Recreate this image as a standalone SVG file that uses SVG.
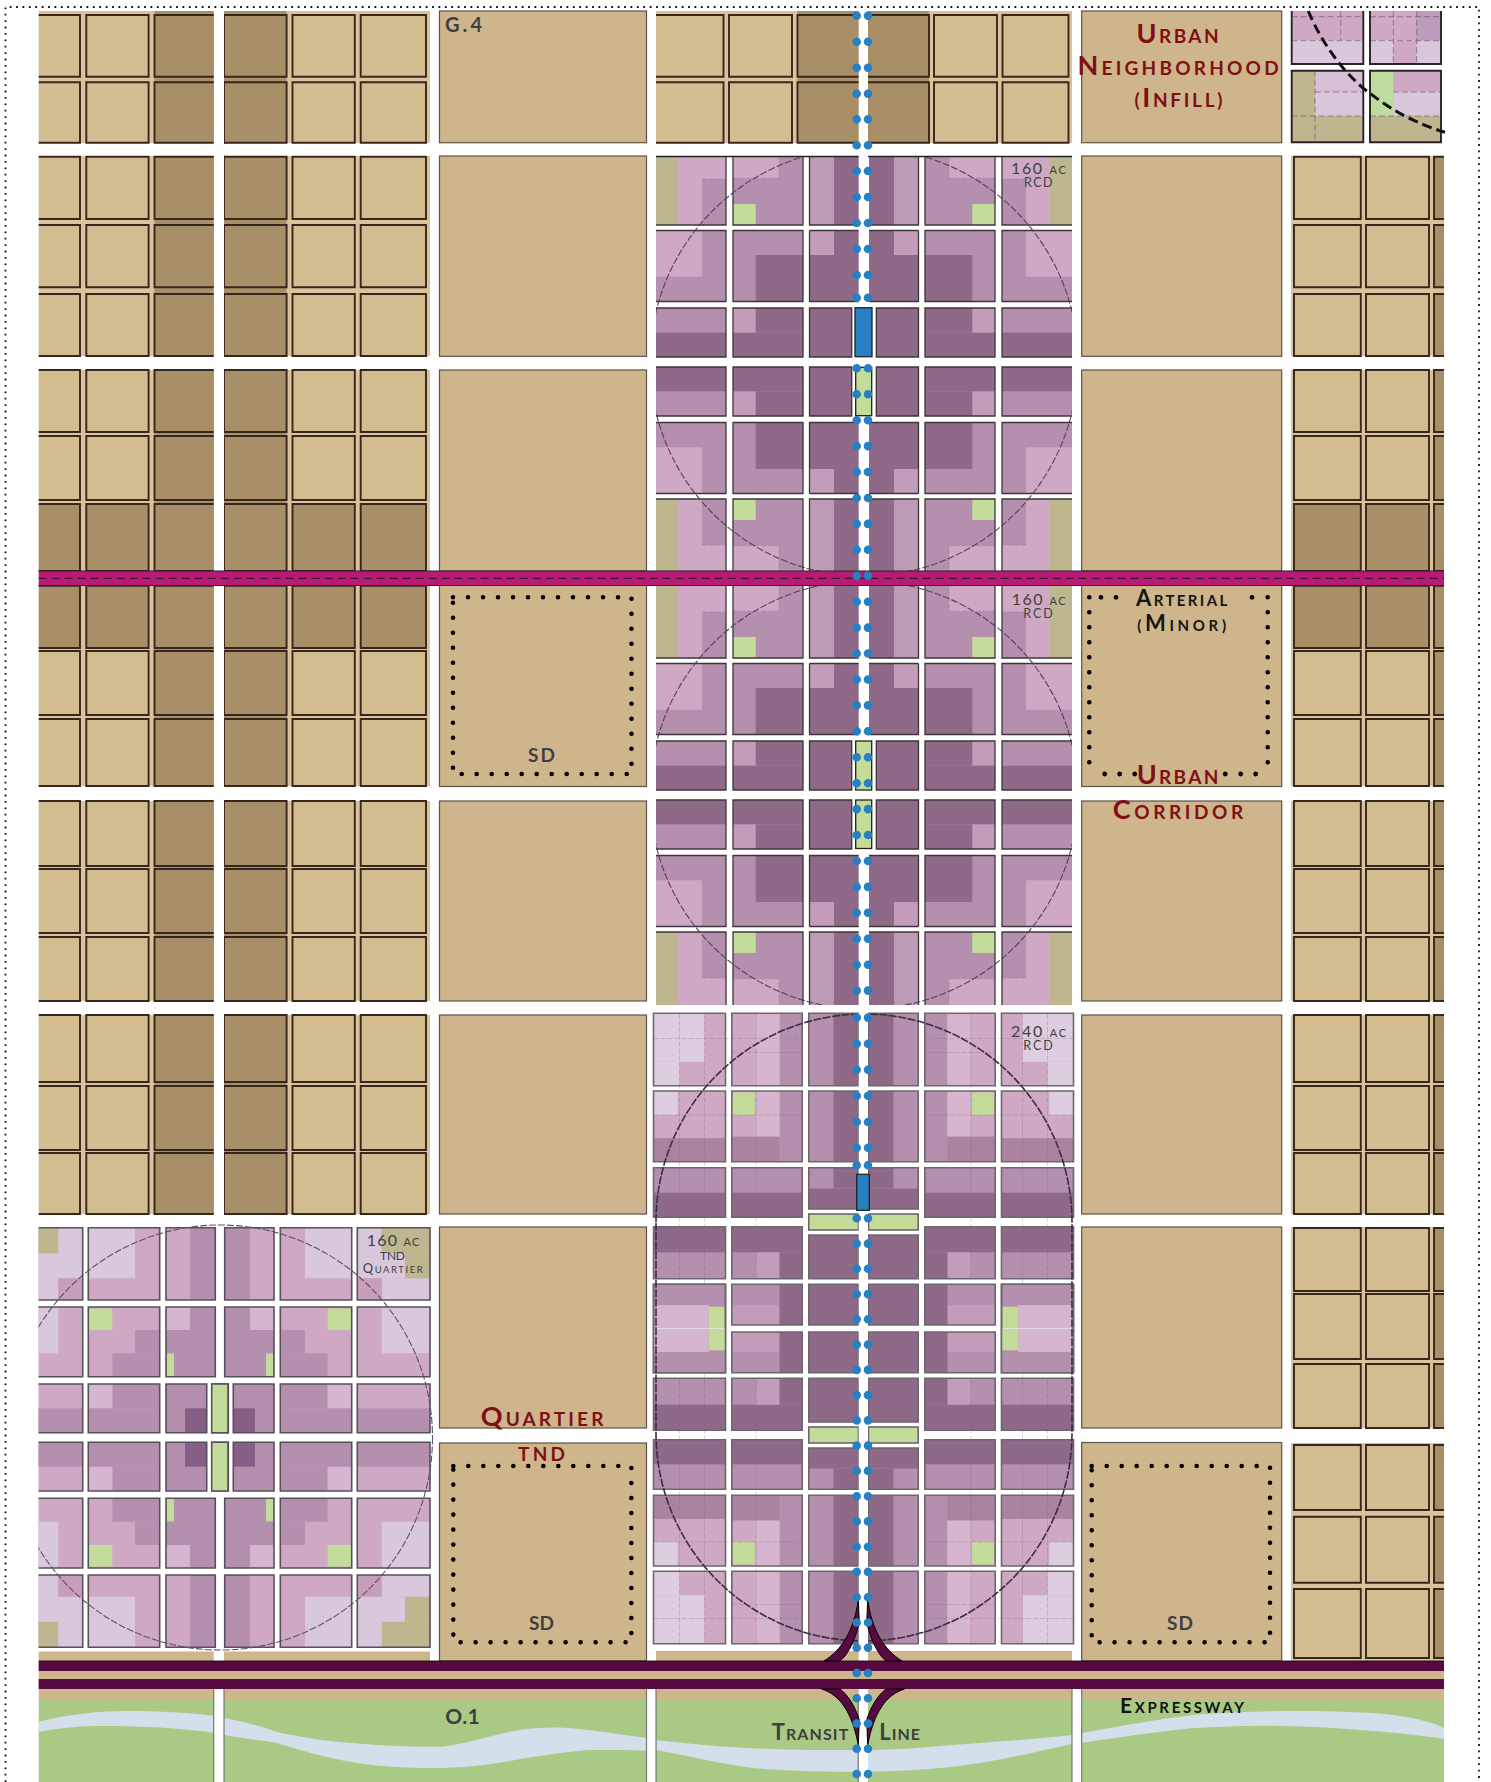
<svg xmlns="http://www.w3.org/2000/svg" xmlns:xlink="http://www.w3.org/1999/xlink" width="1491" height="1782" viewBox="0 0 1491 1782">
<style>
text{font-family:Lato,"Liberation Sans",sans-serif;font-weight:700}
.red{fill:#7f0f14}.gr{fill:#3f3f42}.bk{fill:#141414}
.t4{font-weight:400}
.tan{fill:#cfb58b;stroke:#5c5248;stroke-width:1.2}
.gut{fill:#dcc19b}
.cl,.cd{stroke:#35261e;stroke-width:1.9;vector-effect:non-scaling-stroke}
.cl{fill:#d3bc8f}.cd{fill:#a88f68}
.pk{fill:#cfa9c4}.pk2{fill:#c39cba}.mv{fill:#b590ae}.dk{fill:#8f6a88}.kh{fill:#bdb68f}.gn{fill:#c3dc9a}.pl{fill:#d9c8dc}.lp{fill:#d6b6cf}.m2{fill:#a9839f}
.cs{fill:none;stroke:#3e343a;stroke-width:1.3}
.cg{fill:none;stroke:#6e666e;stroke-width:1.6}
.fg{fill:none;stroke:#7d5f7c;stroke-width:.8;opacity:.35;stroke-dasharray:5 2}
.arc{fill:none;stroke:#54405a;stroke-width:1.1;stroke-dasharray:7 2}
.dots{fill:none;stroke:#000;stroke-width:4.6;stroke-linecap:round;stroke-dasharray:0 15}
.dot{fill:none;stroke:#000;stroke-width:4.8;stroke-linecap:round}
.bl{fill:none;stroke:#2680c2;stroke-width:8.6;stroke-linecap:round}
.st{stroke:#222;stroke-width:1.3}
.ramp{fill:#560a3f;stroke:#000;stroke-width:1}
.edge{stroke:#777;stroke-width:1.2;fill:none}
</style>
<defs>
<g id="ab"><rect class="cl" x="20" y="0" width="60" height="1"/><rect class="cl" x="86.3" y="0" width="62.3" height="1"/><rect class="cd" x="154.5" y="0" width="70" height="1"/><rect class="cd" x="224" y="0" width="62.6" height="1"/><rect class="cl" x="292.5" y="0" width="62.3" height="1"/><rect class="cl" x="360.7" y="0" width="65.3" height="1"/></g>
<g id="abd"><rect class="cd" x="20" y="0" width="60" height="1"/><rect class="cd" x="86.3" y="0" width="62.3" height="1"/><rect class="cd" x="154.5" y="0" width="70" height="1"/><rect class="cd" x="224" y="0" width="62.6" height="1"/><rect class="cd" x="292.5" y="0" width="62.3" height="1"/><rect class="cd" x="360.7" y="0" width="65.3" height="1"/></g>
<g id="ff"><rect class="cl" x="1294" y="0" width="66.8" height="1"/><rect class="cl" x="1366" y="0" width="63" height="1"/><rect class="cd" x="1434" y="0" width="30" height="1"/></g>
<g id="ffd"><rect class="cd" x="1294" y="0" width="66.8" height="1"/><rect class="cd" x="1366" y="0" width="63" height="1"/><rect class="cd" x="1434" y="0" width="30" height="1"/></g>
<g id="dd"><rect class="cl" x="640" y="0" width="83.5" height="1"/><rect class="cl" x="729" y="0" width="63" height="1"/><rect class="cd" x="797.5" y="0" width="131.5" height="1"/><rect class="cl" x="934" y="0" width="63" height="1"/><rect class="cl" x="1002.5" y="0" width="66" height="1"/></g>
<clipPath id="cpAB"><rect x="38.7" y="0" width="175" height="1782"/><rect x="224" y="0" width="206" height="1782"/></clipPath>
<clipPath id="cpF"><rect x="1291" y="0" width="153" height="1782"/></clipPath>
<clipPath id="cpD"><rect x="656" y="0" width="416" height="1782"/></clipPath>

<clipPath id="cpR">
<rect x="-208" y="-210" width="70" height="73"/><rect x="-131" y="-210" width="70" height="73"/><rect x="-54.5" y="-210" width="49.5" height="73"/>
<rect x="-208" y="-131.5" width="70" height="71"/><rect x="-131" y="-131.5" width="70" height="71"/><rect x="-54.5" y="-131.5" width="49.5" height="71"/>
<rect x="-208" y="-54" width="70" height="49"/><rect x="-131" y="-54" width="70" height="49"/><rect x="-54.5" y="-54" width="42.2" height="49"/>
</clipPath>
<g id="rcdq">
<g clip-path="url(#cpR)">
<rect class="mv" x="-208" y="-210" width="203" height="205"/>
<rect class="kh" x="-208" y="-210" width="22" height="73"/>
<rect class="pk" x="-186" y="-210" width="48" height="27"/><rect class="pk" x="-186" y="-183" width="24" height="46"/>
<rect class="pk" x="-131" y="-210" width="46" height="26.3"/>
<rect class="gn" x="-131" y="-158" width="22.7" height="21"/>
<rect class="lp" x="-54.5" y="-210" width="24.5" height="73" opacity=".25"/>
<rect class="dk" x="-30" y="-210" width="25" height="73"/>
<rect class="pk" x="-208" y="-131.5" width="46" height="46.2"/>
<rect class="dk" x="-108.3" y="-107" width="47.3" height="46.5"/>
<rect class="pk2" x="-54.5" y="-131.5" width="24.5" height="24.5"/>
<rect class="dk" x="-30" y="-131.5" width="25" height="24.5"/>
<rect class="dk" x="-54.5" y="-107" width="49.5" height="46.5"/>
<rect class="dk" x="-208" y="-29.3" width="70" height="24.3"/>
<rect class="pk2" x="-131" y="-54" width="22.7" height="24.7"/>
<rect class="dk" x="-108.3" y="-54" width="47.3" height="24.7"/>
<rect class="dk" x="-131" y="-29.3" width="70" height="24.3"/>
<rect class="dk" x="-54.5" y="-54" width="42.2" height="49"/>
</g>
<path class="cs" d="M-208-137H-138V-210M-131-210V-137H-61V-210M-54.5-210V-137H-5M-208-131.5H-138V-60.5H-208M-131-131.5H-61V-60.5H-131ZM-54.5-131.5H-5M-54.5-131.5V-60.5H-5M-208-54H-138V-5H-208M-131-54H-61V-5H-131ZM-54.5-54H-12.3V-5H-54.5Z"/>
<path class="fg" d="M-162-183H-138M-131-183.7H-85V-210"/>
</g>

<clipPath id="cpT">
<rect x="4.7" y="-209.8" width="49.3" height="72.3"/><rect x="60.3" y="-209.8" width="71.4" height="72.3"/><rect x="137.3" y="-209.8" width="72.7" height="72.3"/>
<rect x="4.7" y="-130.5" width="49.3" height="69.7"/><rect x="60.3" y="-130.5" width="71.4" height="69.7"/><rect x="137.3" y="-130.5" width="72.7" height="69.7"/>
<rect x="13.3" y="-53.5" width="40.7" height="48.7"/><rect x="60.3" y="-53.5" width="71.4" height="48.7"/><rect x="137.3" y="-53.5" width="72.7" height="48.7"/>
<rect x="-8" y="-53.5" width="16.3" height="48.7"/>
</clipPath>
<g id="tndq">
<g clip-path="url(#cpT)">
<rect class="pk" x="-8" y="-210" width="218" height="205"/>
<rect class="mv" x="4.7" y="-209.8" width="25.3" height="72.3"/>
<rect class="pl" x="85" y="-209.8" width="46.7" height="50.6"/>
<rect class="pl" x="137.3" y="-209.8" width="72.7" height="50.6"/>
<rect class="pl" x="161.7" y="-159.2" width="48.3" height="21.7"/>
<rect fill="#c79fbd" x="137.3" y="-159.2" width="24.4" height="21.7"/>
<rect class="kh" x="161.7" y="-209.8" width="48.3" height="25.6"/><rect class="kh" x="185" y="-184.2" width="25" height="25"/>
<rect class="mv" x="4.7" y="-130.5" width="25.3" height="23"/>
<rect class="lp" x="30" y="-130.5" width="24" height="23"/>
<rect class="mv" x="4.7" y="-107.5" width="49.3" height="46.7"/>
<rect class="gn" x="46" y="-84" width="7.3" height="23.2"/>
<rect class="mv" x="60.3" y="-107.5" width="24.7" height="23.3"/><rect class="mv" x="60.3" y="-84.2" width="47.4" height="23.4"/>
<rect class="gn" x="107.7" y="-129" width="24" height="21.5"/>
<rect class="pl" x="161.7" y="-130.5" width="48.3" height="46.3"/>
<rect class="mv" x="13.3" y="-53.5" width="40.7" height="48.7"/>
<rect fill="#875e85" x="13.3" y="-29.2" width="21.7" height="24.4"/>
<rect class="mv" x="60.3" y="-53.5" width="47.4" height="24.3"/><rect class="lp" x="107.7" y="-53.5" width="24" height="24.3"/><rect class="mv" x="60.3" y="-29.2" width="71.4" height="24.4"/>
<rect class="mv" x="137.3" y="-29.2" width="72.7" height="24.4"/>
<rect class="gn" x="-8" y="-53.5" width="16.3" height="48.7"/>
</g>
<path class="cg" style="stroke:#56505a" d="M54-209.8H4.7V-137.5H54ZM60.3-209.8H131.7V-137.5H60.3ZM137.3-209.8H210V-137.5H137.3ZM4.7-130.5H54V-60.8H4.7ZM60.3-130.5H131.7V-60.8H60.3ZM137.3-130.5H210V-60.8H137.3ZM13.3-53.5H54V-4.8H13.3ZM60.3-53.5H131.7V-4.8H60.3ZM137.3-53.5H210V-4.8H137.3ZM-8-53.5H8.3V-4.8H-8Z"/>
</g>

<clipPath id="cpW">
<rect x="-210" y="-315.2" width="72" height="72.4"/><rect x="-131.7" y="-315.2" width="70.4" height="72.4"/><rect x="-54.7" y="-315.2" width="49.7" height="72.4"/>
<rect x="-210" y="-237.5" width="72" height="70.7"/><rect x="-131.7" y="-237.5" width="70.4" height="70.7"/><rect x="-54.7" y="-237.5" width="49.7" height="70.7"/>
<rect x="-210" y="-160.8" width="72" height="49.6"/><rect x="-131.7" y="-160.8" width="70.4" height="49.6"/><rect x="-54.7" y="-160.8" width="49.7" height="41.3"/>
<rect x="-210" y="-101.8" width="72" height="52"/><rect x="-131.7" y="-101.8" width="70.4" height="52"/><rect x="-54.7" y="-93.5" width="49.7" height="43.7"/>
<rect x="-210" y="-44.2" width="72" height="44.2"/><rect x="-131.7" y="-44.2" width="70.4" height="40.7"/><rect x="-54.7" y="-44.2" width="49.7" height="40.7"/>
</clipPath>
<g id="rcwq">
<g clip-path="url(#cpW)">
<rect class="mv" x="-210" y="-316" width="205" height="316"/>
<rect class="pk" x="-210" y="-315.2" width="72" height="72.4"/><rect fill="#dccddf" x="-210" y="-315.2" width="51" height="48.4"/><rect fill="#dccddf" x="-210" y="-266.8" width="26" height="24"/>
<rect class="pk" x="-131.7" y="-315.2" width="47.7" height="72.4"/><rect class="lp" x="-107.3" y="-315.2" width="23.3" height="72.4"/>
<rect class="dk" x="-30" y="-315.2" width="25" height="148.4"/>
<rect class="pk" x="-210" y="-237.5" width="72" height="47.3"/><rect fill="#dccddf" x="-210" y="-237.5" width="24.3" height="24"/><rect class="m2" x="-210" y="-190.2" width="72" height="23.4"/>
<rect class="pk" x="-131.7" y="-237.5" width="47.7" height="45.7"/><rect class="lp" x="-107.3" y="-237.5" width="23.3" height="45.7"/><rect class="gn" x="-131" y="-236" width="22.3" height="22.5"/><rect class="m2" x="-131.7" y="-191.8" width="47.7" height="25"/>
<rect class="dk" x="-210" y="-135.8" width="72" height="24.6"/><rect class="dk" x="-131.7" y="-135.8" width="70.4" height="24.6"/>
<rect class="dk" x="-30" y="-160.8" width="25" height="20.8"/><rect class="dk" x="-54.7" y="-140" width="49.7" height="20.5"/>
<rect class="dk" x="-210" y="-101.8" width="72" height="25.6"/><rect class="dk" x="-131.7" y="-101.8" width="70.4" height="25.6"/>
<rect class="pk2" x="-107.3" y="-76.2" width="23.3" height="26.4"/><rect class="dk" x="-84" y="-76.2" width="22.7" height="26.4"/>
<rect class="dk" x="-54.7" y="-93.5" width="49.7" height="43.7"/>
<rect class="lp" x="-210" y="-23.5" width="55.3" height="23.5"/><rect class="gn" x="-154.7" y="-21.8" width="16.7" height="21.8"/>
<rect class="pk2" x="-131.7" y="-23.5" width="47.7" height="20"/><rect class="dk" x="-84" y="-44.2" width="22.7" height="40.7"/>
<rect class="dk" x="-54.7" y="-44.2" width="49.7" height="40.7"/>
</g>
<path class="fg" d="M-184-315V-50M-159-315V-45M-107.3-315V-50M-210-290H-61M-210-213.5H-61M-131-276H-61"/>
<path class="cg" d="M-210-315.2H-138V-242.8H-210ZM-131.7-315.2H-61.3V-242.8H-131.7ZM-54.7-315.2H-5V-242.8H-54.7ZM-210-237.5H-138V-166.8H-210ZM-131.7-237.5H-61.3V-166.8H-131.7ZM-54.7-237.5H-5V-166.8H-54.7ZM-210-160.8H-138V-111.2H-210ZM-131.7-160.8H-61.3V-111.2H-131.7ZM-54.7-160.8H-5V-119.5H-54.7ZM-210-101.8H-138V-49.8H-210ZM-131.7-101.8H-61.3V-49.8H-131.7ZM-54.7-93.5H-5V-49.8H-54.7ZM-210-44.2H-138V44.2H-210ZM-131.7-44.2H-61.3V-3.5H-131.7ZM-54.7-44.2H-5V-3.5H-54.7Z"/>
<rect class="gn cg" style="fill:#c3dc9a" x="-54.7" y="-114.5" width="49.7" height="16"/>
</g>
<path id="bd" d="M0 15.7h0M0 41.7h0M0 67.7h0M0 93.7h0M0 119.3h0M0 145.3h0M0 171h0M0 197h0M0 223h0M0 249h0M0 275h0M0 297.7h0M0 368.3h0M0 394.3h0M0 420.2h0M0 446.1h0M0 472h0M0 498h0M0 523.9h0M0 549.8h0M0 575.8h0M0 601.7h0M0 627.6h0M0 653.5h0M0 679.5h0M0 705.4h0M0 731.3h0M0 757.3h0M0 783.2h0M0 809.1h0M0 835h0M0 861h0M0 886.9h0M0 912.8h0M0 938.8h0M0 964.7h0M0 990.6h0M0 1017.6h0M0 1043.7h0M0 1069.7h0M0 1095.7h0M0 1122h0M0 1147.7h0M0 1165.3h0M0 1218.3h0M0 1243.6h0M0 1268.8h0M0 1294.1h0M0 1319.3h0M0 1344.6h0M0 1369.9h0M0 1395.1h0M0 1420.4h0M0 1445.6h0M0 1470.9h0M0 1496.2h0M0 1521.4h0M0 1546.7h0M0 1571.9h0M0 1597.2h0M0 1622.5h0M0 1647.7h0M0 1673h0M0 1698.2h0M0 1723.5h0M0 1748.8h0M0 1774h0"/>
</defs>
<rect width="1491" height="1782" fill="#fff"/>
<path id="border" d="M5.5 1782V7H1479V1782" fill="none" stroke="#111" stroke-width="1.8" stroke-dasharray="1.8 4.6"/>

<g id="fringe-west" clip-path="url(#cpAB)">
<rect class="gut" x="38.7" y="11" width="392" height="132"/><rect class="gut" x="38.7" y="156" width="392" height="200"/><rect class="gut" x="38.7" y="370" width="392" height="201"/><rect class="gut" x="38.7" y="585" width="392" height="201"/><rect class="gut" x="38.7" y="801" width="392" height="200"/><rect class="gut" x="38.7" y="1015" width="392" height="199"/>
<rect fill="#a88f68" x="154.5" y="11" width="132" height="132"/><rect fill="#a88f68" x="154.5" y="156" width="132" height="200"/><rect fill="#a88f68" x="154.5" y="370" width="132" height="201"/><rect fill="#a88f68" x="154.5" y="585" width="132" height="201"/><rect fill="#a88f68" x="154.5" y="801" width="132" height="200"/><rect fill="#a88f68" x="154.5" y="1015" width="132" height="199"/>
<use href="#ab" transform="translate(0,15) scale(1,61.7)"/><use href="#ab" transform="translate(0,82.3) scale(1,60.4)"/>
<use href="#ab" transform="translate(0,156.7) scale(1,62.3)"/><use href="#ab" transform="translate(0,225) scale(1,62.3)"/><use href="#ab" transform="translate(0,294) scale(1,62)"/>
<use href="#ab" transform="translate(0,370) scale(1,62)"/><use href="#ab" transform="translate(0,436) scale(1,64)"/><use href="#abd" transform="translate(0,504) scale(1,67)"/>
<use href="#abd" transform="translate(0,585.7) scale(1,62.3)"/><use href="#ab" transform="translate(0,651) scale(1,64)"/><use href="#ab" transform="translate(0,719) scale(1,67)"/>
<use href="#ab" transform="translate(0,801) scale(1,65)"/><use href="#ab" transform="translate(0,869) scale(1,64)"/><use href="#ab" transform="translate(0,937) scale(1,64)"/>
<use href="#ab" transform="translate(0,1015) scale(1,67)"/><use href="#ab" transform="translate(0,1086) scale(1,64)"/><use href="#ab" transform="translate(0,1153) scale(1,61)"/>
</g>

<g id="blocks-flat">
<rect class="tan" x="439.5" y="11" width="207" height="131.7"/><rect class="tan" x="439.5" y="156" width="207" height="200.3"/><rect class="tan" x="439.5" y="370" width="207" height="201"/><rect class="tan" x="439.5" y="585" width="207" height="201.5"/><rect class="tan" x="439.5" y="801" width="207" height="200"/><rect class="tan" x="439.5" y="1015" width="207" height="199"/><rect class="tan" x="439.5" y="1227" width="207" height="201"/><rect class="tan" x="439.5" y="1443" width="207" height="218"/>
<rect class="tan" x="1081.7" y="11" width="200" height="131.7"/><rect class="tan" x="1081.7" y="156" width="200" height="200.3"/><rect class="tan" x="1081.7" y="370" width="200" height="201"/><rect class="tan" x="1081.7" y="585" width="200" height="201.5"/><rect class="tan" x="1081.7" y="801" width="200" height="200"/><rect class="tan" x="1081.7" y="1015" width="200" height="199"/><rect class="tan" x="1081.7" y="1227" width="200" height="201"/><rect class="tan" x="1081.7" y="1442.5" width="200" height="218.5"/>
</g>

<g id="fringe-east" clip-path="url(#cpF)">
<rect class="gut" x="1291" y="156" width="153" height="200"/><rect class="gut" x="1291" y="370" width="153" height="201"/><rect class="gut" x="1291" y="585" width="153" height="201"/><rect class="gut" x="1291" y="801" width="153" height="200"/><rect class="gut" x="1291" y="1015" width="153" height="199"/><rect class="gut" x="1291" y="1227" width="153" height="201"/><rect class="gut" x="1291" y="1443" width="153" height="218"/>
<use href="#ff" transform="translate(0,156.7) scale(1,62.3)"/><use href="#ff" transform="translate(0,225) scale(1,62.3)"/><use href="#ff" transform="translate(0,294) scale(1,62)"/>
<use href="#ff" transform="translate(0,370) scale(1,62)"/><use href="#ff" transform="translate(0,436) scale(1,64)"/><use href="#ffd" transform="translate(0,504) scale(1,67)"/>
<use href="#ffd" transform="translate(0,585.7) scale(1,62.3)"/><use href="#ff" transform="translate(0,651) scale(1,64)"/><use href="#ff" transform="translate(0,719) scale(1,67)"/>
<use href="#ff" transform="translate(0,801) scale(1,65)"/><use href="#ff" transform="translate(0,869) scale(1,64)"/><use href="#ff" transform="translate(0,937) scale(1,64)"/>
<use href="#ff" transform="translate(0,1015) scale(1,67)"/><use href="#ff" transform="translate(0,1086) scale(1,64)"/><use href="#ff" transform="translate(0,1153) scale(1,61)"/>
<use href="#ff" transform="translate(0,1228) scale(1,63)"/><use href="#ff" transform="translate(0,1294) scale(1,65)"/><use href="#ff" transform="translate(0,1364) scale(1,64)"/>
<use href="#ff" transform="translate(0,1445) scale(1,65)"/><use href="#ff" transform="translate(0,1516.7) scale(1,66)"/><use href="#ff" transform="translate(0,1589) scale(1,69)"/>
</g>

<g id="corner-plan">
<rect class="pk" x="1291.7" y="11" width="71.6" height="29.7"/><rect class="pl" x="1291.7" y="40.7" width="71.6" height="23.3"/>
<rect class="pk" x="1370" y="11" width="71" height="29.7"/><rect fill="#bd9cbb" x="1416.7" y="11" width="24.3" height="29.7"/><rect class="pl" x="1370" y="40.7" width="71" height="23.3"/><rect class="pk" x="1393.3" y="40.7" width="23.4" height="23.3"/>
<rect class="kh" x="1291.7" y="70.7" width="71.6" height="71.6"/><rect fill="#d8bfd8" x="1315" y="70.7" width="48.3" height="21"/><rect class="pl" x="1315" y="91.7" width="48.3" height="24.3"/>
<rect class="kh" x="1370" y="70.7" width="71" height="71.6"/><rect fill="#bfdc9f" x="1370" y="70.7" width="23.3" height="45.3"/><rect class="pk" x="1393.3" y="70.7" width="47.7" height="21"/><rect class="pl" x="1393.3" y="91.7" width="47.7" height="24.3"/>
<path class="fg" style="stroke:#5a4a55;opacity:.7;stroke-dasharray:6 3" d="M1291.7 16.7H1363M1291.7 40.7H1363M1340.7 11V40M1370 16.7H1441M1370 40.7H1441M1393.3 11V64M1416.7 11V64M1315 92H1363M1393 92H1441M1291.7 116H1363M1370 116H1441M1315 70.7V142"/>
<path fill="none" stroke="#2a2226" stroke-width="1.9" d="M1291.7 11V64H1363.3V11M1370 11V64H1441V11M1291.7 70.7H1363.3V142.3H1291.7ZM1370 70.7H1441V142.3H1370Z"/>
<path fill="none" stroke="#111" stroke-width="3" stroke-dasharray="10 5" d="M1308.3 11C1315 28 1328 50 1343.3 68.3C1352 78 1362 88 1370 93.3C1385 105 1410 122 1445 132.3"/>
</g>

<g id="downtown-row1" clip-path="url(#cpD)">
<rect class="gut" x="656" y="11" width="416" height="132"/>
<rect fill="#a88f68" x="797.5" y="11" width="131.5" height="132"/>
<use href="#dd" transform="translate(0,15) scale(1,61.7)"/><use href="#dd" transform="translate(0,82.3) scale(1,60.4)"/>
</g>

<g id="tnd-quartier" clip-path="url(#cpAB2)">
<clipPath id="cpAB2"><rect x="38.5" y="1222" width="400" height="432"/></clipPath>
<use href="#tndq" transform="translate(220,1437.5)"/>
<use href="#tndq" transform="translate(220,1437.5) scale(-1,1)"/>
<use href="#tndq" transform="translate(220,1437.5) scale(1,-1)"/>
<use href="#tndq" transform="translate(220,1437.5) scale(-1,-1)"/>
<circle class="arc" style="stroke:#5e4e68;stroke-width:1.1" cx="220" cy="1437.5" r="212.5"/>
</g>

<g id="rcd-160-north">
<use href="#rcdq" transform="translate(864,362)"/><use href="#rcdq" transform="translate(864,362) scale(-1,1)"/><use href="#rcdq" transform="translate(864,362) scale(1,-1)"/><use href="#rcdq" transform="translate(864,362) scale(-1,-1)"/>
<rect x="650" y="146" width="430" height="10.3" fill="#fff"/>
<path d="M656 156.5H1072" stroke="#222" stroke-width="1.4"/>
</g>
<g id="rcd-160-south">
<use href="#rcdq" transform="translate(864,795)"/><use href="#rcdq" transform="translate(864,795) scale(-1,1)"/><use href="#rcdq" transform="translate(864,795) scale(1,-1)"/><use href="#rcdq" transform="translate(864,795) scale(-1,-1)"/>
</g>
<g id="rcd-240">
<use href="#rcwq" transform="translate(863.5,1328.5)"/><use href="#rcwq" transform="translate(863.5,1328.5) scale(-1,1)"/><use href="#rcwq" transform="translate(863.5,1328.5) scale(1,-1)"/><use href="#rcwq" transform="translate(863.5,1328.5) scale(-1,-1)"/>
</g>
<clipPath id="cpN"><rect x="656" y="157" width="416" height="414"/></clipPath>
<clipPath id="cpS"><rect x="656" y="585" width="416" height="420"/></clipPath>
<circle class="arc" clip-path="url(#cpN)" cx="864" cy="362" r="214"/>
<circle class="arc" clip-path="url(#cpS)" cx="864" cy="795" r="214"/>
<path class="arc" style="stroke:#3c2c42;stroke-width:1.6;stroke-dasharray:8 1.5" d="M656 1222A208 208 0 0 1 1072 1222V1433A208 208 0 0 1 656 1433Z"/>

<g id="ground">
<rect fill="#cfb58b" x="38.7" y="1651.5" width="175" height="10"/><rect fill="#cfb58b" x="224" y="1651.5" width="206" height="10"/><rect fill="#cfb58b" x="656" y="1651" width="416" height="10"/>
<rect fill="#cfb58b" x="38.7" y="1661" width="1405.3" height="39"/>
<rect fill="#fff" x="213.7" y="1689" width="10.3" height="11"/><rect fill="#fff" x="646.5" y="1689" width="9.5" height="11"/><rect fill="#fff" x="1072" y="1689" width="9.7" height="11"/>
<rect fill="#aac985" x="38.7" y="1700" width="175" height="82"/><rect fill="#aac985" x="224" y="1700" width="422.5" height="82"/><rect fill="#aac985" x="656" y="1700" width="416" height="82"/><rect fill="#aac985" x="1081.7" y="1700" width="362.3" height="82"/>
<g fill="#d4dfec">
<path d="M38.7 1721.7C70 1714 100 1711 126 1711C160 1711 190 1713 213.7 1715.7V1732.7C180 1728 140 1726 105 1726C80 1726 60 1728 38.7 1731.7Z"/>
<path d="M224 1718C245 1722 260 1726 275.7 1731.7C300 1737 320 1740 336.7 1741.7C370 1745 410 1747 442 1746.7C465 1744 485 1737 505 1733C525 1728 545 1727 564 1727.7C590 1729 620 1735 646.5 1737.7V1750.7C625 1750 605 1750 589 1750C565 1752 545 1755 526 1758C495 1764 465 1768 433.5 1768C410 1768 380 1767 357.7 1763C325 1758 300 1750 275.7 1742.7C258 1740 240 1738 224 1735Z"/>
<path d="M656 1740C690 1744 725 1747 753 1748.3C790 1750 825 1750 858 1750C890 1750 920 1748 953 1745C995 1742 1035 1739 1072 1735V1744C1035 1752 995 1762 953 1766.7C920 1770 890 1771.7 858 1771.7C825 1771.7 790 1771 753 1768C720 1764 690 1756 656 1750Z"/>
<path d="M1081.7 1733C1120 1726 1160 1719 1193 1715C1225 1712 1260 1711 1293 1711C1330 1711 1370 1712 1393 1715C1415 1718 1432 1722 1444 1728V1739C1420 1735 1390 1732 1360 1730C1325 1727 1290 1726 1260 1725.7C1235 1726 1215 1727 1193 1728C1155 1732 1120 1737 1081.7 1743Z"/>
</g>
<path class="edge" d="M213.7 1689V1782M224 1689V1782M646.5 1689V1782M656 1689V1782M1072 1689V1782M1081.7 1689V1782"/>
</g>

<g id="stations-and-transit-line">
<rect x="858.7" y="11" width="9.3" height="1660" fill="#fff"/>
<rect x="858.7" y="1679" width="9.3" height="103" fill="#fff"/>
<path class="edge" d="M858.2 1700V1782"/>
<rect class="gn st" x="855.7" y="367.3" width="16" height="48.4"/>
<rect class="gn st" x="855.7" y="741" width="16" height="49"/>
<rect class="gn st" x="855.7" y="800" width="16" height="48.5"/>
<rect class="st" fill="#2680c2" x="855" y="307.7" width="17" height="49"/>
<rect class="st" fill="#2680c2" x="856.7" y="1174.3" width="12.6" height="36"/>
</g>

<g id="arterial">
<rect x="38.7" y="571" width="1405.3" height="14.7" fill="#b81a76"/>
<path d="M38.7 571H1444M38.7 585.5H1444" stroke="#222" stroke-width="1.2"/>
<path d="M38.7 578.3H1444" stroke="#1a1a1a" stroke-width="1" stroke-dasharray="8 5"/>
</g>

<g id="expressway">
<rect x="38.7" y="1661" width="1405.3" height="10" fill="#560a3f"/>
<rect x="38.7" y="1679" width="1405.3" height="10" fill="#560a3f"/>
<path d="M38.7 1661H1444" stroke="#111" stroke-width=".9"/>
<g id="ramps">
<path class="ramp" d="M824 1661C842 1650 854 1630 858.3 1600L859.3 1623C855 1640 848 1655 840 1661Z"/>
<path class="ramp" transform="matrix(-1 0 0 1 1726 0)" d="M824 1661C842 1650 854 1630 858.3 1600L859.3 1623C855 1640 848 1655 840 1661Z"/>
<path class="ramp" d="M821.7 1689C840 1695 852 1712 858.3 1745L859.3 1720C855 1706 848 1695 840 1689Z"/>
<path class="ramp" transform="matrix(-1 0 0 1 1726 0)" d="M821.7 1689C840 1695 852 1712 858.3 1745L859.3 1720C855 1706 848 1695 840 1689Z"/>
</g>
</g>

<g id="transit-stops">
<use href="#bd" class="bl" transform="translate(856.7,0)"/>
<use href="#bd" class="bl" transform="translate(868,0)"/>
</g>

<g id="sd-boundaries">
<rect class="dots" x="453" y="597.3" width="178.5" height="176.7"/>
<rect class="dots" x="453.3" y="1466" width="178" height="176.3"/>
<rect class="dots" x="1091.7" y="1466" width="178.3" height="176.3"/>
<path class="dots" d="M1089.3 597.3V774M1267.7 597.3V774"/>
<path class="dot" d="M1101 597.3h0M1116 597.3h0M1252 597.3h0M1104.7 774h0M1119.7 774h0M1134.7 774h0M1225.3 774h0M1240.7 774h0M1255.7 774h0"/>
</g>

<g id="labels">
<text class="gr" x="445" y="31.7" font-size="20" textLength="37">G.4</text>
<text class="red" x="1136.6" y="42.7" font-size="19" textLength="82"><tspan font-size="27">U</tspan>RBAN</text>
<text class="red" x="1077.6" y="75" font-size="19" textLength="201"><tspan font-size="27">N</tspan>EIGHBORHOOD</text>
<text class="red" x="1134.4" y="107.3" font-size="19" textLength="88">(<tspan font-size="27">I</tspan>NFILL)</text>
<text class="gr t4" x="1011" y="174.3" font-size="16" textLength="54.8">160 <tspan font-size="11">AC</tspan></text>
<text class="gr t4" x="1024" y="186.7" font-size="12.5" textLength="28.4">RCD</text>
<text class="gr t4" x="1011.7" y="605" font-size="16" textLength="54">160 <tspan font-size="11">AC</tspan></text>
<text class="gr t4" x="1023.3" y="618.3" font-size="12.5" textLength="29.4">RCD</text>
<text class="gr t4" x="1011" y="1037.3" font-size="16" textLength="55">240 <tspan font-size="11">AC</tspan></text>
<text class="gr t4" x="1023.3" y="1050" font-size="12.5" textLength="29.4">RCD</text>
<text class="gr t4" x="366.7" y="1246" font-size="16" textLength="52.6">160 <tspan font-size="11">AC</tspan></text>
<text class="gr t4" x="380" y="1260" font-size="12" textLength="25">TND</text>
<text class="gr t4" x="362.7" y="1273.3" font-size="9.5" textLength="60"><tspan font-size="13">Q</tspan>UARTIER</text>
<text class="bk" x="1136" y="606" font-size="15" textLength="91.3"><tspan font-size="22">A</tspan>RTERIAL</text>
<text class="bk" x="1137.3" y="630.7" font-size="15" textLength="88.7">(<tspan font-size="22">M</tspan>INOR)</text>
<text class="red" x="1136.7" y="784" font-size="19" textLength="81.6"><tspan font-size="27">U</tspan>RBAN</text>
<text class="red" x="1112.7" y="818.7" font-size="19" textLength="130.6"><tspan font-size="27">C</tspan>ORRIDOR</text>
<text class="gr" x="528" y="762" font-size="19" textLength="27">SD</text>
<text class="gr" x="529" y="1630" font-size="19" textLength="25">SD</text>
<text class="gr" x="1167" y="1630" font-size="19" textLength="26">SD</text>
<text class="red" x="480.7" y="1426" font-size="19" textLength="122.7"><tspan font-size="27">Q</tspan>UARTIER</text>
<text class="red" x="518" y="1461" font-size="19" textLength="47">TND</text>
<text class="gr" x="445.3" y="1724" font-size="21" textLength="34.5">O.1</text>
<text class="bk" x="1120" y="1712.7" font-size="15" textLength="124"><tspan font-size="21">E</tspan>XPRESSWAY</text>
<text class="gr" x="771.7" y="1740" font-size="16" textLength="76.6"><tspan font-size="22">T</tspan>RANSIT</text>
<text class="gr" x="879.3" y="1740" font-size="16" textLength="40.7"><tspan font-size="22">L</tspan>INE</text>
</g>
</svg>
